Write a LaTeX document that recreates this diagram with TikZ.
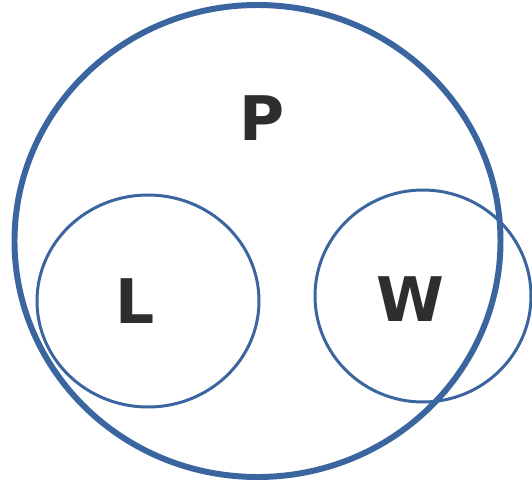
\documentclass[tikz,border=0pt]{standalone}
\usepackage{fontspec}
\setmainfont{DejaVu Sans}
\usepackage{tikz}
\usetikzlibrary{shapes.geometric}

\begin{document}
\begin{tikzpicture}[
        x=0.02cm, y=-0.02cm,
        outer/.style={
            draw=setblue,
            line width=3.4pt
        },
        inner/.style={
            draw=setblue,
            line width=1.7pt
        },
        letter/.style={
            font=\fontsize{35}{40}\selectfont\bfseries,
            text=black!82,
            inner sep=0pt
        }
    ]
    \definecolor{setblue}{HTML}{3A659F}
    \useasboundingbox (0,0) rectangle (532,481);

    \draw[outer] (257.5,241) ellipse [x radius=243, y radius=236];
    \draw[inner] (148,301) ellipse [x radius=111, y radius=106];
    \draw[inner] (423,296) ellipse [x radius=108, y radius=106];

    \node[letter] (setP) at (262,118) {P};
    \node[letter] (setL) at (135,301) {L};
    \node[letter] (setW) at (410,299) {W};

\end{tikzpicture}
\end{document}
